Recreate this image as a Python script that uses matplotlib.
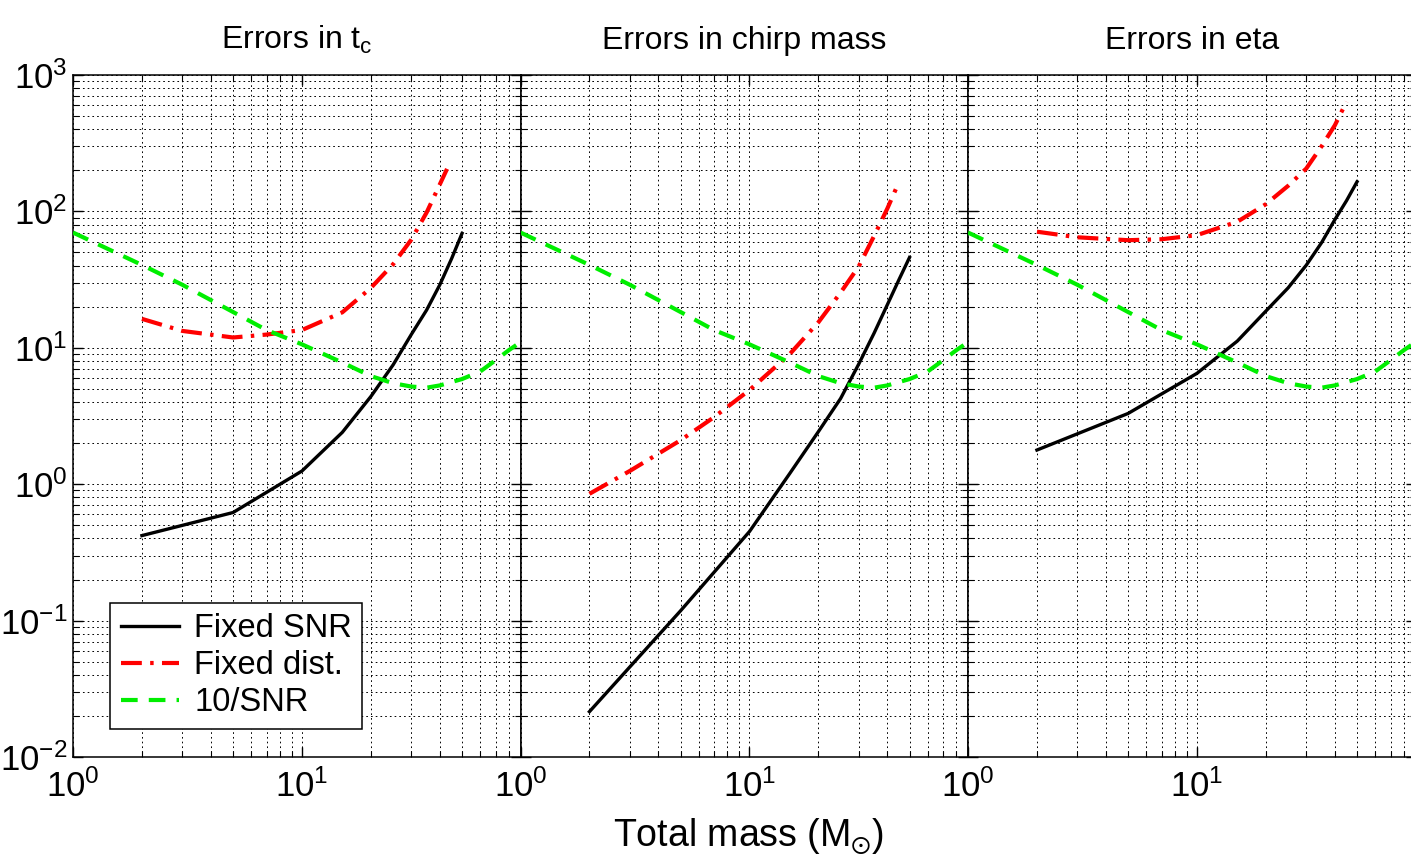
import matplotlib
matplotlib.use("Agg")
import matplotlib.pyplot as plt
from matplotlib.ticker import LogLocator, NullFormatter

plt.rcParams['font.family'] = ['Liberation Sans Narrow', 'Liberation Sans', 'DejaVu Sans']
plt.rcParams['mathtext.fontset'] = 'custom'
plt.rcParams['mathtext.rm'] = 'Liberation Sans'
plt.rcParams['mathtext.it'] = 'Liberation Sans'
plt.rcParams['mathtext.default'] = 'regular'
plt.rcParams['axes.unicode_minus'] = False
plt.rcParams['lines.scale_dashes'] = False

# dados
mass_snr = [2, 5, 10, 15, 20, 25, 30, 35, 40, 45, 50]
mass_dist = [2, 3, 5, 7, 10, 15, 20, 25, 30, 35, 40, 45]
mass_dist_tc = [2, 3, 5, 7, 10, 15, 20, 25, 30, 35, 40, 43]
mass_ref = [1, 2, 3, 5, 7, 10, 15, 20, 25, 30, 35, 40, 50, 60, 70, 80, 90]

tc_snr = [0.42, 0.62, 1.25, 2.4, 4.4, 7.5, 12.5, 18.9, 29, 45, 69]
tc_dist = [16.3, 13.3, 11.9, 12.5, 13.5, 18.2, 27.5, 41, 62, 98, 158, 205]
mc_snr = [0.0215, 0.118, 0.45, 1.2, 2.43, 4.25, 7.6, 12.8, 20.7, 31.7, 46]
mc_dist = [0.85, 1.25, 2.1, 3.1, 4.9, 9.0, 15.4, 25.4, 39.5, 66, 105, 165]
eta_snr = [1.78, 3.3, 6.5, 11.2, 18.6, 27.5, 40.3, 59, 87, 120, 165]
eta_dist = [71, 64.6, 61.5, 62.5, 67, 84, 113, 154, 206, 300, 428, 637]
ref_snr = [70, 40.5, 29, 18.3, 13.5, 10.6, 7.8, 6.2, 5.5, 5.2, 5.1, 5.3, 5.9, 6.7, 8.1, 9.6, 11]

titles = [r'Errors in $\mathregular{t_c}$', 'Errors in chirp mass', 'Errors in eta']
paineis = [(mass_snr, tc_snr, mass_dist_tc, tc_dist),
           (mass_snr, mc_snr, mass_dist, mc_dist),
           (mass_snr, eta_snr, mass_dist, eta_dist)]

W, H = 1411, 867
fig = plt.figure(figsize=(W / 100, H / 100), dpi=100)

lefts = [73, 520.5, 968]
largura = 447.5
base = (H - 757) / H
altura = 682 / H

grid_style = dict(color='k', linewidth=0.7, linestyle=(0, (1.2, 2.2)))

for i, (ms, ys, md, yd) in enumerate(paineis):
    ax = fig.add_axes([lefts[i] / W, base, largura / W, altura])
    ax.set_xscale('log')
    ax.set_yscale('log')

    ax.plot(ms, ys, color='k', lw=2.4, label='Fixed SNR', zorder=3)
    ax.plot(md, yd, color='red', lw=3, linestyle=(0, (15, 6, 2.5, 6)), label='Fixed dist.', zorder=3)
    ax.plot(mass_ref, ref_snr, color='#00ee00', lw=3, linestyle=(0, (12, 8)), label='10/SNR', zorder=3)

    ax.set_xlim(1, 90)
    ax.set_ylim(1e-2, 1e3)

    ax.xaxis.set_major_locator(LogLocator(base=10, numticks=10))
    ax.xaxis.set_minor_locator(LogLocator(base=10, subs=range(2, 10), numticks=20))
    ax.xaxis.set_minor_formatter(NullFormatter())
    ax.yaxis.set_major_locator(LogLocator(base=10, numticks=10))
    ax.yaxis.set_minor_locator(LogLocator(base=10, subs=range(2, 10), numticks=20))
    ax.yaxis.set_minor_formatter(NullFormatter())

    ax.grid(True, which='both', **grid_style)
    ax.set_axisbelow(True)

    ax.tick_params(which='both', direction='in', top=True, right=True, labelsize=25, colors='k')
    ax.tick_params(which='major', length=7, width=1)
    ax.tick_params(which='minor', length=4, width=0.8)
    ax.tick_params(axis='x', pad=9)
    ax.tick_params(axis='y', pad=4)
    if i > 0:
        ax.tick_params(axis='y', labelleft=False)

    for s in ax.spines.values():
        s.set_linewidth(1.1)

    ax.text(0.5, 1.028, titles[i], transform=ax.transAxes, ha='center', va='bottom', fontsize=23)

    if i == 0:
        ax.legend(loc='upper left', bbox_to_anchor=(0.083, 0.226), borderaxespad=0,
                  fontsize=23.5, frameon=True, fancybox=False, edgecolor='k',
                  framealpha=1, handlelength=1.8, handletextpad=0.45,
                  labelspacing=0.18, borderpad=0.32)
        ax.get_legend().get_frame().set_linewidth(1.1)

fig.text(749 / W, 1 - 847 / H, r'Total mass (M$_{\odot}$)', ha='center', va='baseline', fontsize=27)

fig.savefig('out.png', dpi=100)
